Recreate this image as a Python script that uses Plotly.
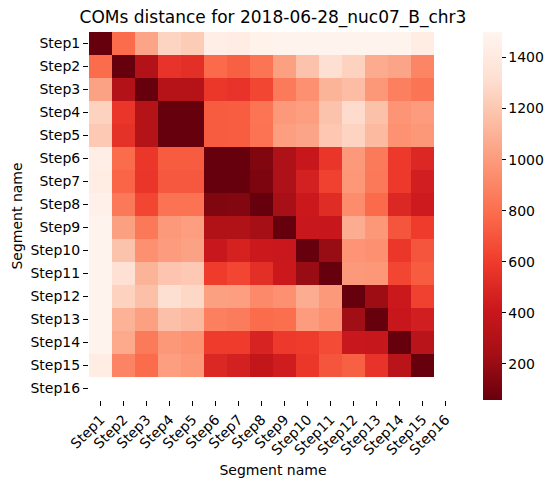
import plotly.graph_objects as go

segments = [f"Step{i}" for i in range(1, 17)]

N = None
distances = [
    [58, 790, 1040, 1260, 1220, 1440, 1420, 1470, 1480, 1480, 1485, 1485, 1485, 1480, 1420, N],
    [790, 58, 300, 560, 540, 780, 740, 830, 1020, 1180, 1320, 1250, 1070, 1040, 900, N],
    [1030, 300, 58, 320, 320, 580, 560, 640, 850, 950, 1110, 1150, 980, 880, 830, N],
    [1250, 570, 310, 58, 58, 720, 730, 830, 990, 1010, 1180, 1300, 1170, 970, 1000, N],
    [1210, 550, 310, 58, 58, 720, 730, 820, 1010, 1040, 1200, 1260, 1140, 960, 980, N],
    [1440, 790, 580, 720, 720, 58, 58, 130, 280, 400, 570, 990, 850, 590, 500, N],
    [1420, 760, 570, 710, 710, 58, 58, 120, 280, 460, 620, 980, 840, 590, 450, N],
    [1460, 840, 640, 820, 820, 130, 140, 58, 250, 420, 520, 930, 780, 500, 430, N],
    [1480, 1020, 840, 990, 1010, 290, 290, 240, 58, 410, 400, 1080, 980, 700, 600, N],
    [1480, 1180, 950, 1000, 1030, 410, 470, 420, 410, 58, 200, 970, 950, 580, 700, N],
    [1480, 1330, 1110, 1190, 1210, 600, 640, 540, 420, 200, 58, 990, 980, 640, 720, N],
    [1480, 1250, 1160, 1320, 1280, 1020, 1010, 920, 950, 1080, 990, 58, 220, 420, 620, N],
    [1480, 1100, 1020, 1160, 1130, 880, 860, 790, 800, 1000, 950, 230, 58, 400, 450, N],
    [1480, 1060, 850, 980, 960, 600, 600, 480, 590, 600, 660, 410, 390, 58, 330, N],
    [1420, 890, 790, 1010, 980, 500, 460, 380, 440, 580, 700, 740, 560, 330, 58, N],
    [N] * 16,
]

cbar_ticks = [200, 400, 600, 800, 1000, 1200, 1400]

reds = ["#fff5f0", "#fee0d2", "#fcbba1", "#fc9272", "#fb6a4a",
        "#ef3b2c", "#cb181d", "#a50f15", "#67000d"]
colorscale = [[i / 8, c] for i, c in enumerate(reversed(reds))]

fig = go.Figure(
    go.Heatmap(
        z=distances,
        x=segments,
        y=segments,
        colorscale=colorscale,
        zmin=58,
        zmax=1500,
        xgap=0,
        ygap=0,
        hoverongaps=False,
        colorbar=dict(
            x=(483 - 89) / 368,
            xanchor="left",
            xpad=0,
            ypad=0,
            y=0.5,
            yanchor="middle",
            len=1,
            lenmode="fraction",
            thickness=19,
            outlinewidth=0,
            ticks="outside",
            ticklen=4,
            tickwidth=1,
            tickcolor="black",
            tickvals=cbar_ticks,
            tickfont=dict(size=14, color="black"),
        ),
    )
)

fig.update_layout(
    width=556,
    height=486,
    margin=dict(l=89, r=99, t=32, b=86, autoexpand=False),
    paper_bgcolor="white",
    plot_bgcolor="white",
    font=dict(family="DejaVu Sans", size=14, color="black"),
    title=dict(
        text="COMs distance for 2018-06-28_nuc07_B_chr3",
        x=(89 + 457) / 2 / 556,
        xanchor="center",
        y=1 - 17 / 486,
        yanchor="middle",
        font=dict(size=17, color="black"),
    ),
    xaxis=dict(
        title=dict(text="Segment name", font=dict(size=14), standoff=8),
        type="category",
        categoryorder="array",
        categoryarray=segments,
        range=[-0.5, 15.5],
        tickangle=-45,
        ticks="outside",
        ticklen=5,
        tickcolor="black",
        showgrid=False,
        zeroline=False,
        showline=False,
        tickfont=dict(size=14),
    ),
    yaxis=dict(
        title=dict(text="Segment name", font=dict(size=14), standoff=4),
        type="category",
        categoryorder="array",
        categoryarray=segments,
        range=[15.5, -0.5],
        ticks="outside",
        ticklen=5,
        tickcolor="black",
        showgrid=False,
        zeroline=False,
        showline=False,
        tickfont=dict(size=14),
    ),
)

fig.write_html("out.html")
